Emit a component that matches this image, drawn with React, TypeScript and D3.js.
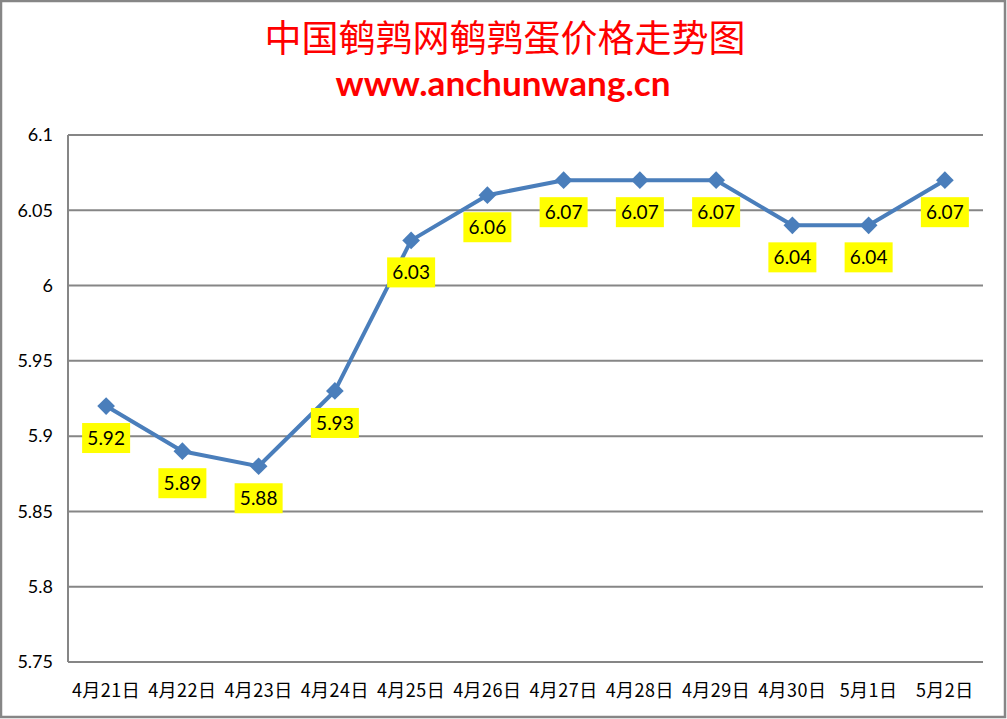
import { useEffect, useRef } from 'react'
import * as d3 from 'd3'

const dates = ['4月21日', '4月22日', '4月23日', '4月24日', '4月25日', '4月26日', '4月27日', '4月28日', '4月29日', '4月30日', '5月1日', '5月2日']
const prices = [5.92, 5.89, 5.88, 5.93, 6.03, 6.06, 6.07, 6.07, 6.07, 6.04, 6.04, 6.07]
const yTicks = [5.75, 5.8, 5.85, 5.9, 5.95, 6, 6.05, 6.1]

const title = '中国鹌鹑网鹌鹑蛋价格走势图'
const subtitle = 'www.anchunwang.cn'

const W = 1007
const H = 719

export default function App() {
  const svgRef = useRef<SVGSVGElement>(null)

  useEffect(() => {
    if (!svgRef.current) return
    const svg = d3.select(svgRef.current)
    svg.selectAll('*').remove()

    const margin = { top: 135, right: 24, bottom: 57, left: 68 }
    const width = W - margin.left - margin.right
    const height = H - margin.top - margin.bottom

    svg.append('rect')
      .attr('x', 1).attr('y', 1).attr('width', W - 3).attr('height', H - 3)
      .attr('fill', 'white').attr('stroke', '#868686').attr('stroke-width', 2.5)

    svg.append('text')
      .attr('x', 505).attr('y', 52)
      .attr('text-anchor', 'middle').attr('fill', '#ff0000')
      .attr('font-family', '"Noto Sans CJK SC"').attr('font-size', '37px')
      .text(title)

    svg.append('text')
      .attr('x', 503).attr('y', 96)
      .attr('text-anchor', 'middle').attr('fill', '#ff0000')
      .attr('font-family', 'Lato, "Open Sans", sans-serif').attr('font-weight', 'bold')
      .attr('font-size', '34px')
      .attr('textLength', 335).attr('lengthAdjust', 'spacingAndGlyphs')
      .text(subtitle)

    const g = svg.append('g').attr('transform', `translate(${margin.left},${margin.top})`)

    const x = d3.scaleBand().domain(dates).range([0, width])
    const y = d3.scaleLinear().domain([5.75, 6.1]).range([height, 0])

    g.selectAll('.grid')
      .data(yTicks)
      .enter().append('line')
      .attr('class', 'grid')
      .attr('x1', 0).attr('x2', width)
      .attr('y1', (d) => y(d)).attr('y2', (d) => y(d))
      .attr('stroke', '#868686').attr('stroke-width', 2)

    g.append('line')
      .attr('x1', 0).attr('x2', 0).attr('y1', 0).attr('y2', height)
      .attr('stroke', '#868686').attr('stroke-width', 2)

    g.selectAll('.ytick')
      .data(yTicks)
      .enter().append('text')
      .attr('class', 'ytick')
      .attr('x', -15).attr('y', (d) => y(d))
      .attr('dy', '0.35em').attr('text-anchor', 'end')
      .attr('font-family', 'Lato, "Open Sans", sans-serif').attr('font-size', '18px')
      .attr('fill', '#000')
      .text((d) => String(d))

    g.selectAll('.xtick')
      .data(dates)
      .enter().append('text')
      .attr('class', 'xtick')
      .attr('x', (d) => (x(d) as number) + x.bandwidth() / 2)
      .attr('y', height + 35)
      .attr('text-anchor', 'middle')
      .attr('font-family', '"Noto Sans CJK SC", Lato, sans-serif').attr('font-size', '18px')
      .attr('letter-spacing', '0.5px')
      .attr('fill', '#000')
      .text((d) => d)

    const data = dates.map((d, i) => ({ date: d, value: prices[i] }))
    const cx = (d: { date: string }) => (x(d.date) as number) + x.bandwidth() / 2

    const line = d3.line<{ date: string; value: number }>()
      .x((d) => cx(d))
      .y((d) => y(d.value))

    g.append('path')
      .datum(data)
      .attr('fill', 'none').attr('stroke', '#4a7ebb').attr('stroke-width', 4)
      .attr('stroke-linejoin', 'round')
      .attr('d', line)

    g.selectAll('.marker')
      .data(data)
      .enter().append('path')
      .attr('class', 'marker')
      .attr('transform', (d) => `translate(${cx(d)},${y(d.value)})`)
      .attr('d', d3.symbol(d3.symbolDiamond2, 200)())
      .attr('fill', '#4a7ebb')

    const labels = g.selectAll('.label')
      .data(data)
      .enter().append('g')
      .attr('class', 'label')
      .attr('transform', (d) => `translate(${cx(d)},${y(d.value) + 32})`)

    labels.append('rect')
      .attr('x', -24).attr('y', -15).attr('width', 48).attr('height', 30)
      .attr('fill', '#ffff00')

    labels.append('text')
      .attr('text-anchor', 'middle').attr('dy', '0.36em')
      .attr('font-family', 'Lato, "Open Sans", sans-serif').attr('font-size', '19px')
      .attr('fill', '#000')
      .text((d) => d.value.toFixed(2))
  }, [])

  return (
    <div style={{ position: 'absolute', left: 0, top: 0 }}>
      <svg ref={svgRef} width={W} height={H}></svg>
    </div>
  )
}
